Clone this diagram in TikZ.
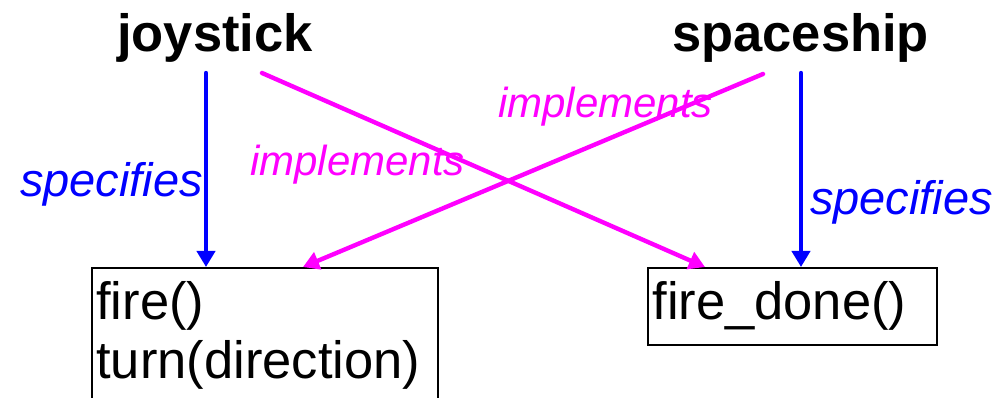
\documentclass[tikz,border=0pt]{standalone}
\usepackage{fontspec}
\setmainfont{Liberation Sans}
\usetikzlibrary{arrows.meta}
\definecolor{pblue}{RGB}{0,0,255}
\definecolor{pmag}{RGB}{255,0,255}
\begin{document}
\begin{tikzpicture}[x=1pt,y=-1pt,
  title/.style={inner sep=0pt,anchor=base west,font=\fontsize{52.5}{59}\selectfont\bfseries},
  spec/.style={inner sep=0pt,anchor=base west,text=pblue,font=\fontsize{47}{52}\selectfont\itshape},
  impl/.style={inner sep=0pt,anchor=base west,text=pmag,font=\fontsize{42}{48}\selectfont\itshape},
  box/.style={draw=black,line width=1.8pt,anchor=north west,align=left,inner xsep=4.5pt,inner ysep=14pt,font=\fontsize{52.5}{59}\selectfont},
  sarrow/.style={draw=pblue,line width=4.4pt,line cap=round,-{Triangle[length=16pt,width=18pt]}},
  iarrow/.style={draw=pmag,line width=4.4pt,line cap=round,-{Triangle[length=16pt,width=18pt]}}]
\useasboundingbox (0,0) rectangle (1005,398);
\node[title] (joy) at (117,52) {joystick};
\node[title] (ship) at (672,52) {spaceship};
\node[box,text width=337pt] (L) at (91,267) {fire()\\turn(direction)};
\node[box,text width=280pt] (R) at (647,267) {fire\_done()};
\coordinate (ja) at (206,73);
\coordinate (jb) at (262,73);
\coordinate (sa) at (763,74);
\coordinate (sb) at (801,73);
\coordinate (Rin) at (705,267);
\coordinate (Lin) at (303,267);
\draw[sarrow] (ja) -- (ja |- L.north);
\draw[sarrow] (sb) -- (sb |- R.north);
\draw[iarrow] (jb) -- (Rin);
\draw[iarrow] (sa) -- (Lin);
\node[spec] (s1) at (20,197) {specifies};
\node[spec] (s2) at (810,215) {specifies};
\node[impl] (i1) at (250,176) {implements};
\node[impl] (i2) at (498,118) {implements};
\end{tikzpicture}
\end{document}
